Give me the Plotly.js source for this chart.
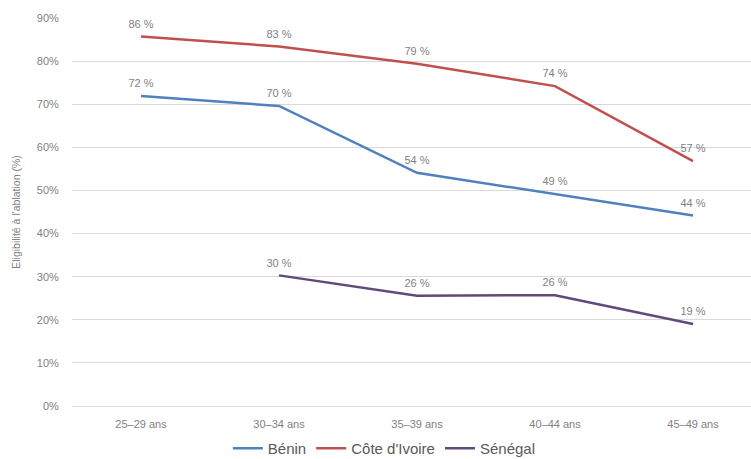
<!DOCTYPE html>
<html>
<head>
<meta charset="utf-8">
<script src="https://cdn.plot.ly/plotly-3.0.1.min.js"></script>
<style>html,body{margin:0;padding:0;background:#fff;}#chart{width:751px;height:459px;}</style>
</head>
<body>
<div id="chart"></div>
<script>
const categories = ["25–29 ans", "30–34 ans", "35–39 ans", "40–44 ans", "45–49 ans"];
const benin = [71.9, 69.6, 54.1, 49.2, 44.2];
const coteIvoire = [85.7, 83.4, 79.4, 74.2, 56.8];
const senegal = [null, 30.3, 25.6, 25.7, 19.0];
const seriesNames = ["Bénin", "Côte d'Ivoire", "Sénégal"];
const colors = ["#4F81BD", "#C0504D", "#604A7B"];

function labels(arr) { return arr.map(v => v === null ? "" : Math.round(v) + " %"); }

const xIdx = categories.map((c, i) => i);
const data = [benin, coteIvoire, senegal].map((vals, k) => ({
  type: "scatter",
  mode: "lines+markers+text",
  name: seriesNames[k],
  x: xIdx,
  y: vals,
  text: labels(vals),
  textposition: "top center",
  textfont: {family: "Liberation Sans, Arial, sans-serif", size: 11, color: "#7f7f7f"},
  line: {color: colors[k], width: 2.5},
  marker: {size: 8, color: "rgba(0,0,0,0)", line: {width: 0}},
  cliponaxis: false,
  hoverinfo: "skip"
}));

const layout = {
  width: 751, height: 459,
  margin: {l: 72, r: 0, t: 18, b: 53},
  paper_bgcolor: "#fff", plot_bgcolor: "#fff",
  font: {family: "Liberation Sans, Arial, sans-serif", color: "#7f7f7f"},
  showlegend: true,
  legend: {orientation: "h", x: 0.46, xanchor: "center", xref: "paper",
           y: 0, yanchor: "bottom", yref: "container",
           font: {size: 15, color: "#595959"}, itemwidth: 30, tracegroupgap: 0},
  xaxis: {
    range: [-0.5, 4.42], tickmode: "array", tickvals: xIdx, ticktext: categories,
    showgrid: false, zeroline: false, showline: false, ticks: "outside", ticklen: 8,
    tickcolor: "rgba(0,0,0,0)",
    tickfont: {size: 11, color: "#7f7f7f"}, fixedrange: true
  },
  yaxis: {
    range: [0, 90], dtick: 10, ticksuffix: "%", showgrid: true, gridcolor: "#d9d9d9", gridwidth: 1,
    zeroline: true, zerolinecolor: "#d9d9d9", showline: false, ticks: "outside", ticklen: 10,
    tickcolor: "rgba(0,0,0,0)",
    tickfont: {size: 11, color: "#7f7f7f"},
    title: {text: "Eligibilité à l'ablation (%)", font: {size: 10.5, color: "#7f7f7f"}, standoff: 14}
  }
};

Plotly.newPlot("chart", data, layout, {displayModeBar: false, staticPlot: true}).then(gd => {
  const leg = gd.querySelector("g.legend");
  if (leg) {
    const t = leg.getAttribute("transform") || "";
    const m = t.match(/translate\(\s*([-\d.]+)[ ,]+([-\d.]+)\s*\)/);
    if (m) leg.setAttribute("transform", "translate(" + m[1] + "," + (parseFloat(m[2]) + 6) + ")");
  }
});
</script>
</body>
</html>
